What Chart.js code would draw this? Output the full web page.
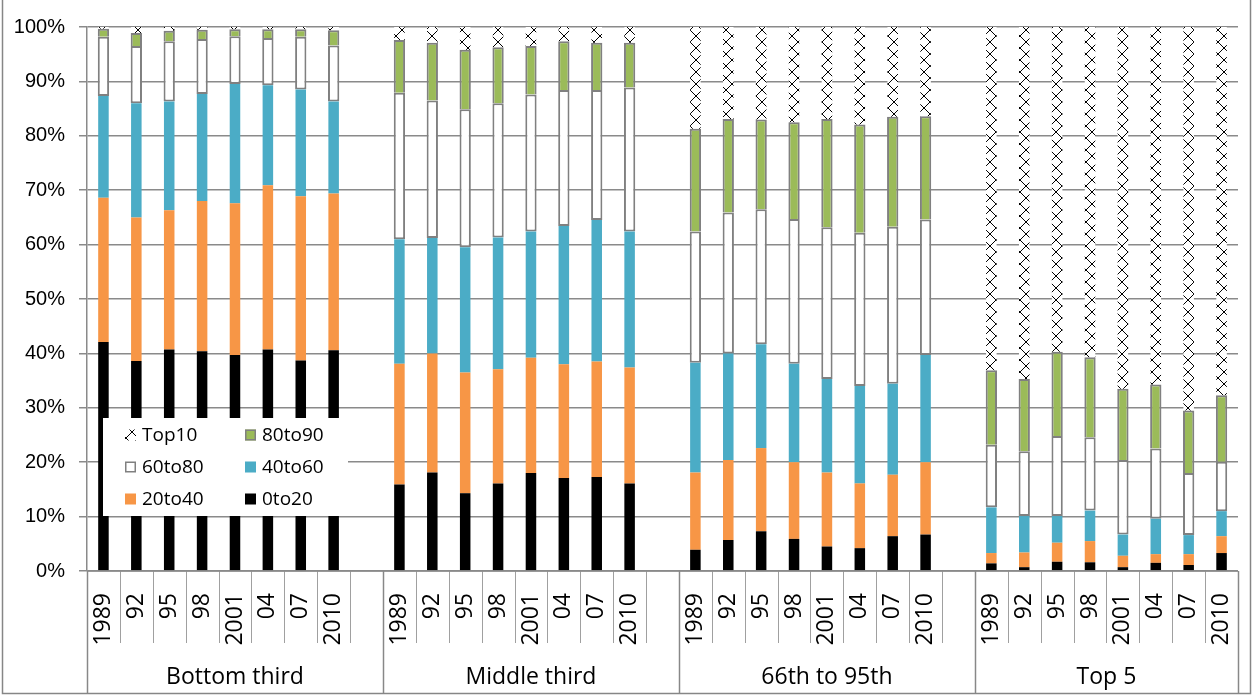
<!DOCTYPE html>
<html>
<head>
<meta charset="utf-8">
<script src="https://cdn.jsdelivr.net/npm/chart.js@4"></script>
<style>
  html, body { margin: 0; padding: 0; background: #fff; }
  canvas { display: block; }
</style>
</head>
<body>
<canvas id="chart" width="1253" height="696"></canvas>
<script>
// Survey years shown inside each income group
const years = ['1989', '92', '95', '98', '2001', '04', '07', '2010'];
const groups = ['Bottom third', 'Middle third', '66th to 95th', 'Top 5'];
const yTicks = [0, 10, 20, 30, 40, 50, 60, 70, 80, 90, 100];

// Share (%) of each holding category, 8 years per group, groups in order
const share0to20 = [42.1, 38.6, 40.7, 40.4, 39.7, 40.7, 38.7, 40.6,
                    15.9, 18.1, 14.3, 16.1, 18.0, 17.1, 17.3, 16.1,
                    3.9, 5.7, 7.3, 5.9, 4.5, 4.2, 6.4, 6.7,
                    1.4, 0.7, 1.7, 1.6, 0.7, 1.5, 1.1, 3.3];
const share20to40 = [26.5, 26.4, 25.6, 27.6, 27.9, 30.2, 30.2, 28.8,
                     22.2, 21.9, 22.2, 21.0, 21.2, 20.9, 21.2, 21.3,
                     14.2, 14.7, 15.3, 14.1, 13.6, 11.9, 11.3, 13.3,
                     1.9, 2.7, 3.5, 3.9, 2.1, 1.6, 2.0, 3.1];
const share40to60 = [18.7, 21.0, 20.0, 19.7, 21.9, 18.4, 19.6, 16.9,
                     22.9, 21.2, 23.0, 24.2, 23.2, 25.4, 26.0, 25.0,
                     20.2, 19.6, 19.1, 18.1, 17.2, 17.9, 16.7, 19.7,
                     8.4, 6.7, 4.9, 5.6, 3.9, 6.5, 3.5, 4.6];
const share60to80 = [10.9, 10.5, 11.1, 10.1, 8.8, 8.7, 9.7, 10.3,
                     26.9, 25.3, 25.4, 24.7, 25.2, 25.0, 23.9, 26.5,
                     24.1, 25.9, 24.8, 26.6, 27.9, 28.2, 28.9, 24.9,
                     11.5, 11.9, 14.7, 13.5, 13.7, 12.9, 11.4, 9.1];
const share80to90 = [1.5, 2.4, 1.9, 1.7, 1.3, 1.6, 1.4, 2.8,
                     9.7, 10.6, 10.9, 10.3, 8.9, 9.0, 8.7, 8.2,
                     18.9, 17.2, 16.5, 17.8, 19.9, 19.9, 20.2, 19.0,
                     13.7, 13.3, 15.5, 14.7, 13.1, 11.8, 11.5, 12.2];
const shareTop10 = [0.3, 1.1, 0.7, 0.5, 0.4, 0.4, 0.4, 0.6,
                    2.4, 2.9, 4.2, 3.7, 3.5, 2.6, 2.9, 2.9,
                    18.7, 16.9, 17.0, 17.5, 16.9, 17.9, 16.5, 16.4,
                    63.1, 64.7, 59.7, 60.7, 66.5, 65.7, 70.5, 67.7];

// Category axis: the years of every group, with one empty slot between groups
const labels = [];
const groupStart = [];
groups.forEach((g, gi) => {
  groupStart.push(labels.length);
  years.forEach(y => labels.push(y));
  if (gi < groups.length - 1) labels.push('');
});
function spread(values) {
  const out = [];
  groups.forEach((g, gi) => {
    years.forEach((y, yi) => out.push(values[gi * years.length + yi]));
    if (gi < groups.length - 1) out.push(null);
  });
  return out;
}

// Black criss-cross fill on white for the top decile
function crossPattern() {
  const n = 12;
  const c = document.createElement('canvas');
  c.width = n; c.height = n;
  const g = c.getContext('2d');
  g.fillStyle = '#ffffff';
  g.fillRect(0, 0, n, n);
  g.fillStyle = '#000000';
  for (let i = 0; i < n; i++) {
    g.fillRect(i, i, 1, 1);
    g.fillRect(n - 1 - i, i, 1, 1);
  }
  return g.createPattern(c, 'repeat');
}

const GRID = '#8a8a8a';
const EDGE = '#808080';
const NARROW = 0.4, WIDE = 0.43;

const datasets = [
  { label: '0to20', data: spread(share0to20), backgroundColor: '#000000', borderWidth: 0, barPercentage: NARROW },
  { label: '20to40', data: spread(share20to40), backgroundColor: '#F79646', borderWidth: 0, barPercentage: NARROW },
  { label: '40to60', data: spread(share40to60), backgroundColor: '#4BACC6', borderWidth: 0, barPercentage: NARROW },
  { label: '60to80', data: spread(share60to80), backgroundColor: '#ffffff', borderColor: EDGE, borderWidth: 2, borderSkipped: false, barPercentage: WIDE },
  { label: '80to90', data: spread(share80to90), backgroundColor: '#9BBB59', borderColor: EDGE, borderWidth: 2, borderSkipped: 'bottom', barPercentage: WIDE },
  { label: 'Top10', data: spread(shareTop10), backgroundColor: crossPattern(), borderWidth: 0, barPercentage: NARROW }
];

// Tick marks, group dividers, group names, outer frame and the inset legend
const framePlugin = {
  id: 'frame',
  afterDraw(chart) {
    const ctx = chart.ctx;
    const area = chart.chartArea;
    const n = labels.length;
    const step = (area.right - area.left) / n;
    const dividers = new Set([0, n]);
    groupStart.forEach((s, i) => { if (i > 0) dividers.add(s); });

    ctx.save();
    // category boundary ticks below the axis
    for (let i = 0; i <= n; i++) {
      const px = Math.round(area.left + i * step) + 0.5;
      const full = dividers.has(i);
      ctx.beginPath();
      ctx.strokeStyle = full ? '#888888' : '#a0a0a0';
      ctx.lineWidth = full ? 1.5 : 1;
      ctx.moveTo(px, area.bottom);
      ctx.lineTo(px, full ? 693 : 643);
      ctx.stroke();
    }
    // x axis line
    ctx.beginPath();
    ctx.strokeStyle = GRID;
    ctx.lineWidth = 1.5;
    ctx.moveTo(area.left, area.bottom);
    ctx.lineTo(area.right, area.bottom);
    ctx.stroke();

    // group names centred between dividers
    ctx.fillStyle = '#000000';
    ctx.font = '23px "Open Sans"';
    ctx.textAlign = 'center';
    ctx.textBaseline = 'middle';
    groups.forEach((g, gi) => {
      const a = groupStart[gi];
      const b = gi < groups.length - 1 ? groupStart[gi + 1] : n;
      const cx = area.left + (a + b) / 2 * step;
      ctx.fillText(g, cx, 677);
    });

    // outer frame
    ctx.strokeStyle = '#868686';
    ctx.lineWidth = 1.5;
    ctx.strokeRect(2.5, -10, 1248, 703.5);

    // legend box drawn over the bars
    const box = { x: 103, y: 418, w: 245, h: 98 };
    ctx.fillStyle = '#ffffff';
    ctx.fillRect(box.x, box.y, box.w, box.h);
    const items = chart.data.datasets.slice().reverse();
    ctx.font = '19px "Open Sans"';
    ctx.textAlign = 'left';
    items.forEach((ds, i) => {
      const col = i % 2, row = Math.floor(i / 2);
      const ix = box.x + 22 + col * 120;
      const cy = box.y + 17 + row * 32;
      const s = 11;
      ctx.fillStyle = ds.backgroundColor;
      ctx.fillRect(ix, cy - s / 2, s, s);
      if (ds.borderWidth) {
        ctx.strokeStyle = ds.borderColor;
        ctx.lineWidth = 1.5;
        ctx.strokeRect(ix + 0.75, cy - s / 2 + 0.75, s - 1.5, s - 1.5);
      }
      ctx.fillStyle = '#000000';
      ctx.fillText(ds.label, ix + 17, cy + 1);
    });
    ctx.restore();
  }
};

new Chart(document.getElementById('chart'), {
  type: 'bar',
  data: { labels, datasets },
  plugins: [framePlugin],
  options: {
    responsive: false,
    animation: false,
    devicePixelRatio: 1,
    layout: { padding: { left: 0, right: 15, top: 27, bottom: 0 } },
    plugins: { legend: { display: false }, tooltip: { enabled: false }, title: { display: false } },
    scales: {
      x: {
        stacked: true,
        grid: { display: false },
        border: { display: false },
        ticks: {
          autoSkip: false,
          minRotation: 90,
          maxRotation: 90,
          padding: 14,
          color: '#000000',
          font: { family: 'Open Sans', size: 23 }
        },
        afterFit(scale) {
          scale.height = 125;
          scale.paddingLeft = 0;
          scale.paddingRight = 0;
        }
      },
      y: {
        stacked: true,
        min: 0,
        max: 100,
        afterBuildTicks(scale) { scale.ticks = yTicks.map(v => ({ value: v })); },
        grid: { color: GRID, lineWidth: 1.5, tickLength: 8 },
        border: { display: true, color: GRID, width: 1.5 },
        ticks: {
          padding: 14,
          color: '#000000',
          font: { family: 'Liberation Sans', size: 20 },
          callback: v => v + '%'
        },
        afterFit(scale) { scale.width = 87; }
      }
    }
  }
});
</script>
</body>
</html>
